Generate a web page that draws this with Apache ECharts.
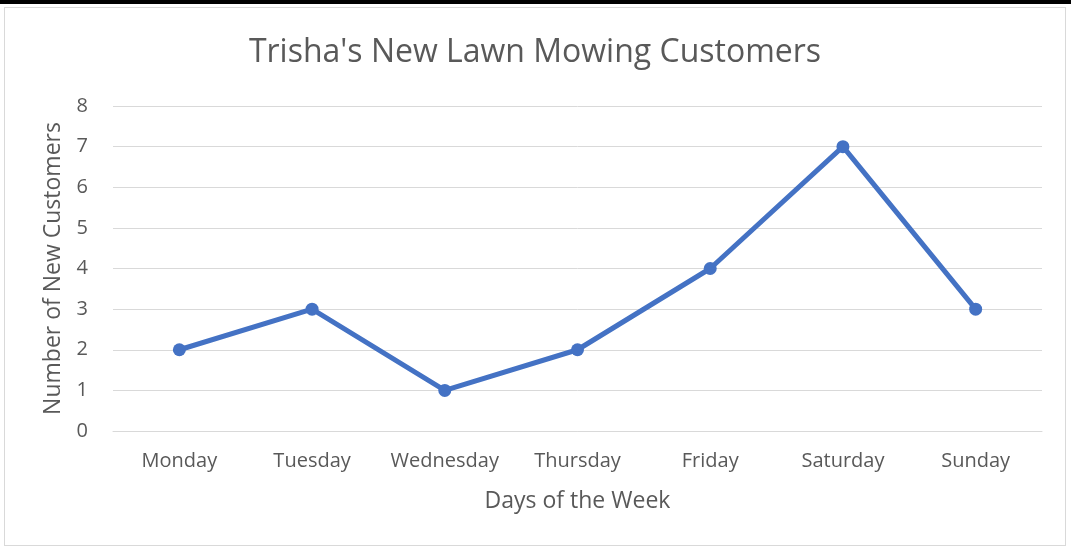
<!DOCTYPE html>
<html>
<head>
<meta charset="utf-8">
<script src="https://cdn.jsdelivr.net/npm/echarts@6/dist/echarts.min.js"></script>
<style>
  html, body { margin: 0; padding: 0; background: #fff; }
  .topbar { position: absolute; left: 0; top: 0; width: 1071px; height: 4px; background: #000; }
  .chart { position: absolute; left: 4px; top: 7px; width: 1062px; height: 539px; border: 1px solid #d9d9d9; box-sizing: border-box; }
</style>
</head>
<body>
<div class="topbar"></div>
<div id="chart" class="chart"></div>
<script>
const days = ['Monday', 'Tuesday', 'Wednesday', 'Thursday', 'Friday', 'Saturday', 'Sunday']
const customers = [2, 3, 1, 2, 4, 7, 3]
const yTicks = [0, 1, 2, 3, 4, 5, 6, 7, 8]

const myChart = echarts.init(document.getElementById('chart'))
const font = '"Open Sans", "Noto Sans", sans-serif'

const option = {
  animation: false,
  title: {
    text: "Trisha's New Lawn Mowing Customers",
    left: 'center',
    top: 24,
    textStyle: { color: '#595959', fontSize: 32, fontWeight: 'normal', fontFamily: font }
  },
  grid: { left: 108, right: 23, top: 98, bottom: 114 },
  xAxis: {
    type: 'category',
    data: days,
    name: 'Days of the Week',
    nameLocation: 'middle',
    nameGap: 59,
    nameTextStyle: { color: '#595959', fontSize: 23, fontFamily: font },
    axisLine: { lineStyle: { color: '#d9d9d9', width: 1 } },
    axisTick: { show: false },
    axisLabel: { color: '#595959', fontSize: 20, margin: 20, interval: 0, fontFamily: font }
  },
  yAxis: {
    type: 'value',
    min: yTicks[0],
    max: yTicks[yTicks.length - 1],
    interval: 1,
    name: 'Number of New Customers',
    nameLocation: 'middle',
    nameGap: 48,
    nameTextStyle: { color: '#595959', fontSize: 23, fontFamily: font },
    axisLine: { show: false },
    axisTick: { show: false },
    axisLabel: { color: '#595959', fontSize: 20, margin: 25, fontFamily: font },
    splitLine: { lineStyle: { color: '#d9d9d9', width: 1 } }
  },
  series: [{
    type: 'line',
    data: customers,
    symbol: 'circle',
    symbolSize: 13,
    lineStyle: { color: '#4472c4', width: 5 },
    itemStyle: { color: '#4472c4' }
  }]
}

myChart.setOption(option)
</script>
</body>
</html>
